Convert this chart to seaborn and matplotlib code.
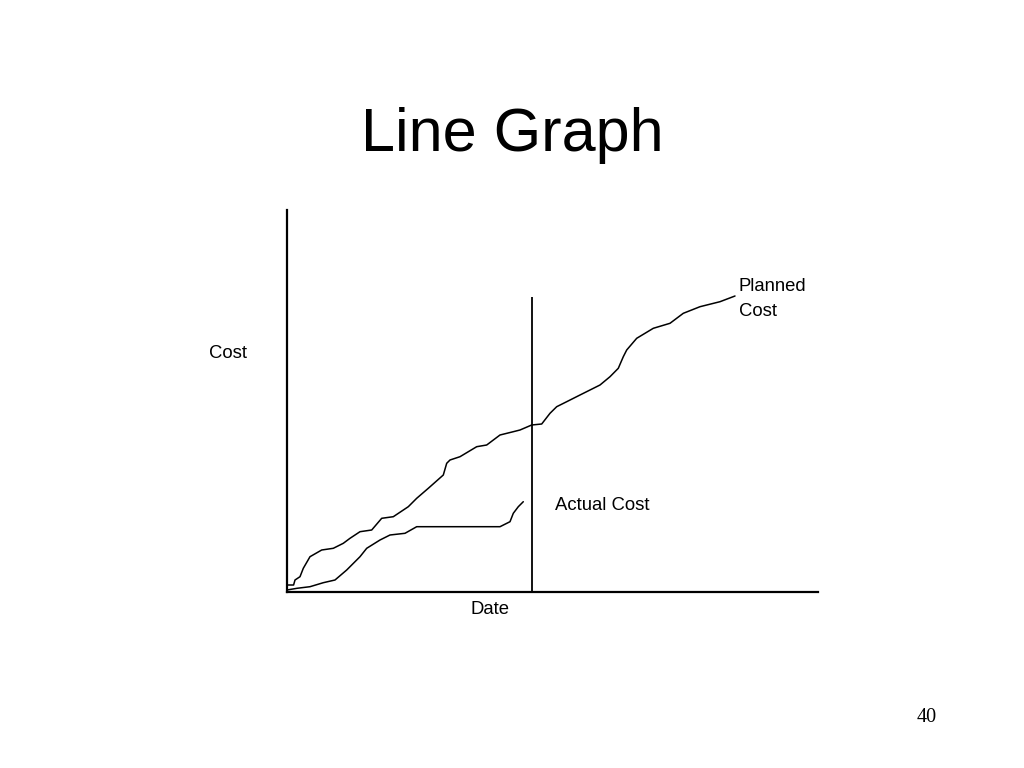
import matplotlib
matplotlib.use("Agg")
import matplotlib.pyplot as plt
import seaborn as sns
import pandas as pd

# Planned cost curve (date units, cost units)
planned_date = [0, 6.6, 8, 13, 16.3, 23, 34.7, 46.3, 56.3, 63, 73, 84.7, 94.7, 106.3,
                121.3, 129.7, 141.3, 156.3, 159.7, 163, 173, 189.7, 199.7, 213, 226.3,
                233, 244.7, 254.7, 263, 269.7, 279.7, 293, 313, 323, 331.3, 336.3,
                339.7, 349.7, 366.3, 383, 396.3, 413, 433, 448]
planned_cost = [7, 7, 12, 15.3, 23.7, 35.3, 42, 43.7, 48.7, 53.7, 60.3, 62, 73.7, 75.3,
                85.3, 93.7, 103.7, 117, 128.7, 132, 135.3, 145.3, 147, 157, 160.3,
                162, 167, 168, 178.7, 185.3, 190.3, 197, 207, 215.3, 223.7, 235.3,
                242, 253.7, 263.7, 268.7, 278.7, 285.3, 290.3, 296]

# Actual cost curve
actual_date = [0, 10, 23, 36.3, 48, 59.7, 73, 79.7, 93, 103, 118, 129.7, 213, 223,
               226.3, 231.3, 236.3]
actual_cost = [2, 3.7, 5.3, 9.3, 12, 22, 35.3, 43.7, 52, 57, 58.7, 65.3, 65.3, 70.3,
               78.7, 85.3, 90.3]

# Status date marker
status_date = [245]
status_top = [295]

x_max, y_max = 531, 382

df = pd.concat([
    pd.DataFrame({"Date": planned_date, "Cost": planned_cost, "Series": "Planned Cost"}),
    pd.DataFrame({"Date": actual_date, "Cost": actual_cost, "Series": "Actual Cost"}),
])

sns.set_theme(style="white")
plt.rcParams["font.family"] = ["Liberation Sans", "DejaVu Sans"]
plt.rcParams["text.color"] = "black"

fig = plt.figure(figsize=(10.24, 7.68), dpi=100)
ax = fig.add_axes([287 / 1024, 1 - 592 / 768, 531 / 1024, 382 / 768])

sns.lineplot(data=df, x="Date", y="Cost", units="Series", estimator=None,
             color="black", linewidth=1.1, sort=False, ax=ax)
ax.vlines(status_date, 0, status_top, color="black", linewidth=1.3)

ax.set_xlim(0, x_max)
ax.set_ylim(0, y_max)
ax.set_xticks([])
ax.set_yticks([])
ax.set_xlabel("")
ax.set_ylabel("")
for s in ["top", "right"]:
    ax.spines[s].set_visible(False)
for s in ["left", "bottom"]:
    ax.spines[s].set_color("black")
    ax.spines[s].set_linewidth(1.6)

fig.text(0.5, 1 - 135 / 768, "Line Graph", ha="center", va="center", fontsize=44,
         color="black")
lab = dict(fontsize=13.3, color="black")
fig.text(228 / 1024, 1 - 353 / 768, "Cost", ha="center", va="center", **lab)
fig.text(490 / 1024, 1 - 609 / 768, "Date", ha="center", va="center", **lab)
fig.text(739 / 1024, 1 - 299 / 768, "Planned\nCost", ha="left", va="center",
         linespacing=1.55, **lab)
fig.text(555 / 1024, 1 - 505 / 768, "Actual Cost", ha="left", va="center", **lab)
fig.text(927 / 1024, 1 - 718 / 768, "40", ha="center", va="center", fontsize=14.5,
         color="black", family=["Liberation Serif", "DejaVu Serif"])

fig.savefig("out.png", dpi=100)
